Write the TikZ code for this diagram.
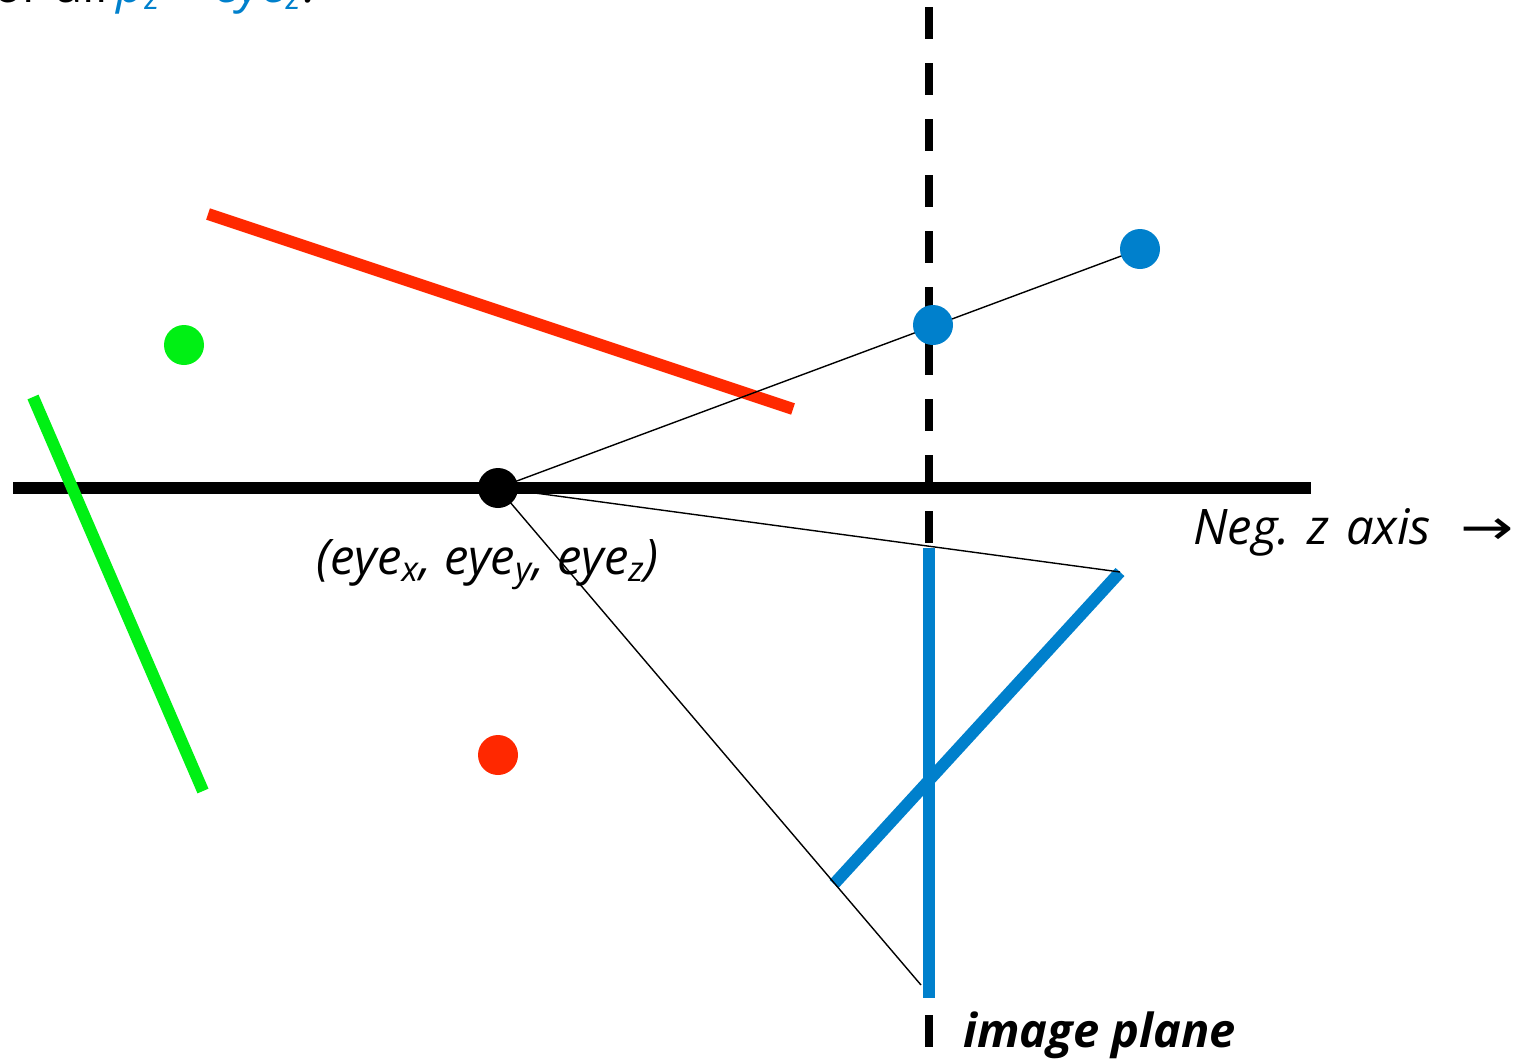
\documentclass[tikz,border=0pt]{standalone}
\usepackage{fontspec}
\setmainfont{Open Sans}
\definecolor{cblue}{RGB}{0,128,204}
\definecolor{cred}{RGB}{255,40,0}
\definecolor{cgreen}{RGB}{0,240,20}
\tikzset{
  thickline/.style={line width=6pt},
  thinline/.style={line width=0.7pt, black},
  dotnode/.style={circle, inner sep=0pt, minimum size=20pt},
  lbl/.style={font=\fontsize{24.5}{28}\selectfont\itshape, inner sep=0pt},
}
\begin{document}
\begin{tikzpicture}[x=0.5pt,y=-0.5pt]
\useasboundingbox (0,0) rectangle (1533,1061);
\clip (0,0) rectangle (1533,1061);
% top (cut-off) text
\node[lbl, font=\fontsize{24.5}{28}\selectfont, anchor=base east] (t1) at (108,2) {For all};
\node[lbl, anchor=base west, text=cblue] (t2) at (116,2) {p\textsubscript{z} < eye\textsubscript{z}\textcolor{black}{?}};
% dashed image plane
\coordinate (ptop) at (929,7);
\coordinate (pbot) at (929,1061);
\draw[line width=4pt, dash pattern=on 16pt off 12pt] (ptop) -- (pbot);
% axis
\coordinate (axL) at (13,488);
\coordinate (axR) at (1311,488);
\draw[thickline] (axL) -- (axR);
% red line
\coordinate (r1) at (208,214);
\coordinate (r2) at (793,409);
\draw[thickline, cred] (r1) -- (r2);
% green line
\coordinate (g1) at (33,397);
\coordinate (g2) at (203,791);
\draw[thickline, cgreen] (g1) -- (g2);
% dots
\node[dotnode, fill=cgreen] (gd) at (184,345) {};
\node[dotnode, fill=cred] (rd) at (498,755) {};
% blue lines
\coordinate (bv1) at (929,548);
\coordinate (bv2) at (929,998);
\draw[thickline, cblue] (bv1) -- (bv2);
\coordinate (bd1) at (1120,572);
\coordinate (bd2) at (834,884);
\draw[thickline, cblue] (bd1) -- (bd2);
% eye and projection lines
\node[dotnode, fill=black] (eye) at (498,488) {};
\coordinate (bp2c) at (1140,249);
\coordinate (eyec) at (498,488);
\coordinate (lowend) at (921,985);
\draw[thinline] (eyec) -- (bp2c);
\draw[thinline] (eyec) -- (bd1);
\draw[thinline] (eyec) -- (lowend);
\node[dotnode, fill=cblue] (bp1) at (933,325) {};
\node[dotnode, fill=cblue] (bp2) at (1140,249) {};
% labels
\node[lbl, anchor=base west] (eyelbl) at (316,574) {(eye\textsubscript{x}, eye\textsubscript{y}, eye\textsubscript{z})};
\node[lbl, anchor=base west] (neg) at (1193,544) {Neg.\hspace{0.35em}z\hspace{0.35em}axis\hspace{0.6em}{\upshape\fontspec{DejaVu Sans}\scalebox{1.3}[1]{→}}};
\node[lbl, font=\fontsize{23.5}{27}\selectfont\bfseries\itshape, anchor=base west] (ip) at (963,1047) {image plane};
\end{tikzpicture}
\end{document}
